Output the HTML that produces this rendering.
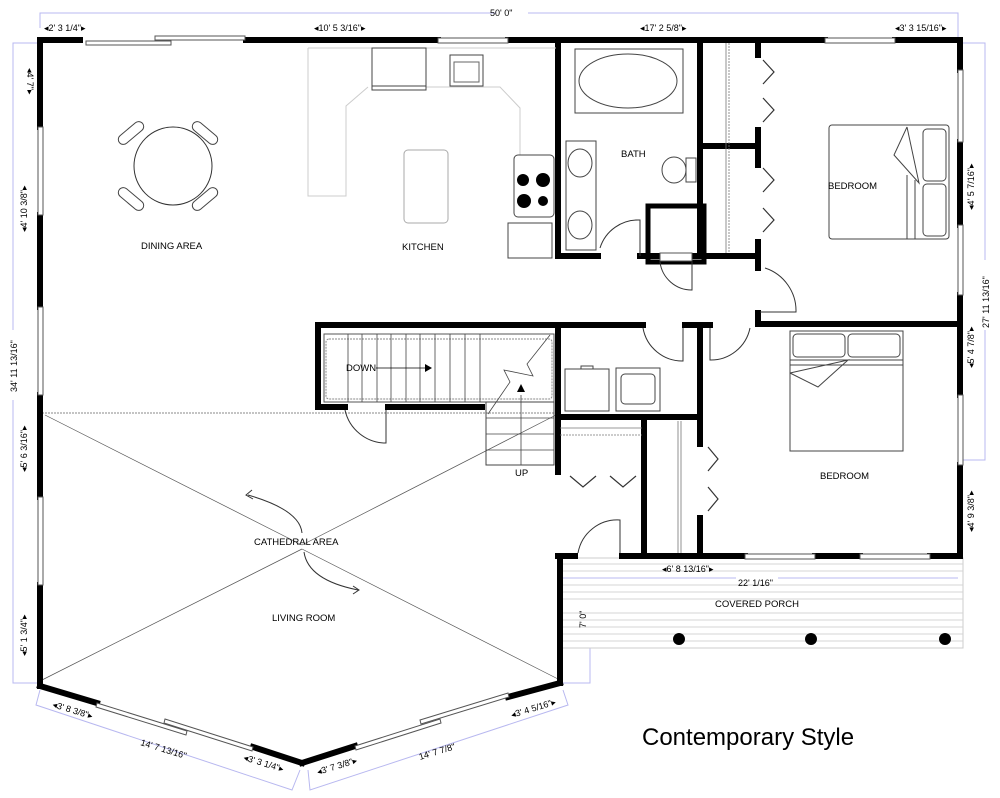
<!DOCTYPE html>
<html><head><meta charset="utf-8"><style>
html,body{margin:0;padding:0;background:#fff;}
svg{display:block;font-family:"Liberation Sans",sans-serif;}
.w{stroke:#000;stroke-width:6;fill:none;stroke-linecap:square}
.t{font-size:9.5px;fill:#000}
.d{font-size:9px;fill:#000}
.dim{stroke:#b8b8f0;stroke-width:1;fill:none}
.g{stroke:#bbb;stroke-width:1;fill:none}
.k{stroke:#333;stroke-width:1;fill:none}
.win{fill:#fff;stroke:#555;stroke-width:1}
</style></head><body>
<svg width="1000" height="798" viewBox="0 0 1000 798">
<!-- dimension lines -->
<polyline class="dim" points="40,28 40,13 958,13 958,40"/>
<polyline class="dim" points="40,43 13,43 13,683 40,683"/>
<polyline class="dim" points="960,43 985,43 985,460 960,460"/>
<polyline class="dim" points="40,690 36,705 292,790 300,770"/>
<polyline class="dim" points="308,770 310,790 568,705 563,690"/>
<polyline class="dim" points="563,683 590,683 590,560"/>
<line class="dim" x1="560" y1="578" x2="958" y2="578"/>
<rect x="496" y="8" width="32" height="10" fill="#fff"/>
<text class="d" x="490" y="16">50' 0"</text>
<text class="d" x="44" y="31">◂2' 3 1/4"▸</text>
<text class="d" x="314" y="31">◂10' 5 3/16"▸</text>
<text class="d" x="640" y="31">◂17' 2 5/8"▸</text>
<text class="d" x="895" y="31">◂3' 3 15/16"▸</text>
<rect x="8" y="330" width="10" height="70" fill="#fff"/>
<text class="d" transform="translate(17,392) rotate(-90)">34' 11 13/16"</text>
<text class="d" transform="translate(27,68) rotate(90)">◂4' 7"▸</text>
<text class="d" transform="translate(27,232) rotate(-90)">◂4' 10 3/8"▸</text>
<text class="d" transform="translate(27,472) rotate(-90)">◂5' 6 3/16"▸</text>
<text class="d" transform="translate(27,656) rotate(-90)">◂5' 1 3/4"▸</text>
<rect x="980" y="260" width="10" height="70" fill="#fff"/>
<text class="d" transform="translate(989,328) rotate(-90)">27' 11 13/16"</text>
<text class="d" transform="translate(974,210) rotate(-90)">◂4' 5 7/16"▸</text>
<text class="d" transform="translate(974,368) rotate(-90)">◂5' 4 7/8"▸</text>
<text class="d" transform="translate(974,532) rotate(-90)">◂4' 9 3/8"▸</text>

<!-- porch -->
<rect x="558" y="558" width="405" height="90" fill="#fff" stroke="#ccc"/>
<g stroke="#d4d4d4" stroke-width="1">
<line x1="560" y1="564" x2="963" y2="564"/><line x1="560" y1="571" x2="963" y2="571"/>
<line x1="560" y1="585" x2="963" y2="585"/><line x1="560" y1="592" x2="963" y2="592"/>
<line x1="560" y1="599" x2="963" y2="599"/><line x1="560" y1="613" x2="963" y2="613"/>
<line x1="560" y1="620" x2="963" y2="620"/><line x1="560" y1="627" x2="963" y2="627"/>
<line x1="560" y1="634" x2="963" y2="634"/><line x1="560" y1="641" x2="963" y2="641"/>
</g>
<line class="dim" x1="560" y1="578" x2="958" y2="578"/>
<circle cx="679" cy="639" r="6"/><circle cx="811" cy="639" r="6"/><circle cx="945" cy="639" r="6"/>
<text class="d" x="662" y="572">◂6' 8 13/16"▸</text>
<rect x="736" y="574" width="42" height="9" fill="#fff"/>
<text class="d" x="738" y="586">22' 1/16"</text>
<text class="t" x="715" y="607">COVERED PORCH</text>
<text class="d" transform="translate(586,628) rotate(-90)">7' 0"</text>

<!-- cathedral lines -->
<line x1="42" y1="413" x2="556" y2="413" stroke="#888" stroke-dasharray="2,1"/>
<g stroke="#555" stroke-width="0.7">
<line x1="45" y1="415" x2="302" y2="545"/><line x1="302" y1="545" x2="556" y2="415"/>
<line x1="42" y1="680" x2="302" y2="549"/><line x1="302" y1="549" x2="560" y2="680"/>
</g>
<path d="M302 533 Q300 510 248 495" class="k"/><path d="M252 490 L246 495 L253 499" class="k"/>
<path d="M304 552 Q308 580 358 590" class="k"/><path d="M353 586 L359 590 L353 594" class="k"/>

<!-- outer walls -->
<g class="w">
<line x1="40" y1="40" x2="80" y2="40"/><line x1="246" y1="40" x2="438" y2="40"/>
<line x1="508" y1="40" x2="825" y2="40"/><line x1="895" y1="40" x2="960" y2="40"/>
<line x1="40" y1="40" x2="40" y2="127"/><line x1="40" y1="215" x2="40" y2="307"/>
<line x1="40" y1="395" x2="40" y2="497"/><line x1="40" y1="585" x2="40" y2="686"/>
<line x1="960" y1="40" x2="960" y2="70"/><line x1="960" y1="142" x2="960" y2="225"/>
<line x1="960" y1="295" x2="960" y2="395"/><line x1="960" y1="465" x2="960" y2="556"/>
<line x1="558" y1="556" x2="575" y2="556"/><line x1="622" y1="556" x2="745" y2="556"/>
<line x1="815" y1="556" x2="860" y2="556"/><line x1="930" y1="556" x2="960" y2="556"/>
<line x1="560" y1="556" x2="560" y2="683"/>
<line x1="40" y1="686" x2="97" y2="703"/><line x1="253" y1="747" x2="302" y2="763"/>
<line x1="302" y1="763" x2="355" y2="746"/><line x1="508" y1="697" x2="560" y2="683"/>
</g>
<!-- windows -->
<g class="win">
<rect x="86" y="41" width="85" height="4"/><rect x="155" y="36" width="90" height="4"/>
<rect x="438" y="38" width="70" height="5"/><rect x="825" y="38" width="70" height="5"/>
<rect x="38" y="127" width="5" height="88"/><rect x="38" y="307" width="5" height="88"/>
<rect x="38" y="497" width="5" height="88"/>
<rect x="958" y="70" width="5" height="72"/><rect x="958" y="225" width="5" height="70"/>
<rect x="958" y="395" width="5" height="70"/>
<rect x="745" y="554" width="70" height="5"/><rect x="860" y="554" width="70" height="5"/>
<polygon points="97,703 187,731 186,735 96,707"/><polygon points="165,719 253,747 252,751 164,723"/>
<polygon points="355,746 440,719 441,723 356,750"/><polygon points="420,720 508,693 509,697 421,724"/>
</g>
<text class="d" transform="translate(52,707) rotate(17)">◂3' 8 3/8"▸</text>
<text class="d" transform="translate(140,745) rotate(17)">14' 7 13/16"</text>
<text class="d" transform="translate(243,760) rotate(17)">◂3' 3 1/4"▸</text>
<text class="d" transform="translate(318,775) rotate(-17)">◂3' 7 3/8"▸</text>
<text class="d" transform="translate(420,760) rotate(-17)">14' 7 7/8"</text>
<text class="d" transform="translate(512,718) rotate(-17)">◂3' 4 5/16"▸</text>

<!-- interior walls -->
<g class="w">
<line x1="558" y1="43" x2="558" y2="256"/><line x1="558" y1="256" x2="598" y2="256"/>
<line x1="640" y1="256" x2="758" y2="256"/>
<line x1="700" y1="43" x2="700" y2="256"/><line x1="700" y1="146" x2="758" y2="146"/>
<line x1="758" y1="45" x2="758" y2="55"/><line x1="758" y1="130" x2="758" y2="165"/>
<line x1="758" y1="242" x2="758" y2="268"/><line x1="758" y1="313" x2="758" y2="324"/>
<line x1="758" y1="324" x2="958" y2="324"/>
<line x1="318" y1="325" x2="643" y2="325"/><line x1="685" y1="325" x2="710" y2="325"/>
<line x1="318" y1="325" x2="318" y2="407"/><line x1="318" y1="407" x2="345" y2="407"/>
<line x1="388" y1="407" x2="482" y2="407"/>
<line x1="558" y1="325" x2="558" y2="472"/><line x1="558" y1="417" x2="700" y2="417"/>
<line x1="700" y1="325" x2="700" y2="444"/><line x1="700" y1="518" x2="700" y2="556"/>
<line x1="644" y1="421" x2="644" y2="556"/>
</g>
<rect x="648" y="206" width="56" height="56" fill="none" stroke="#000" stroke-width="5"/>
<rect x="660" y="253" width="32" height="8" fill="#fff" stroke="#555"/>
<g stroke="#777" stroke-width="0.8"><line x1="729" y1="43" x2="729" y2="253" stroke-dasharray="2,1"/><line x1="726" y1="43" x2="726" y2="253"/>
<line x1="678" y1="421" x2="678" y2="553"/><line x1="681" y1="421" x2="681" y2="553"/>
<line x1="560" y1="435" x2="642" y2="435" stroke-dasharray="2,1"/><line x1="560" y1="428" x2="642" y2="428"/></g>
<!-- doors -->
<g class="k" stroke-width="0.8">
<path d="M600 248 A40 40 0 0 1 640 220 L640 256"/>
<path d="M660 262 A32 32 0 0 0 692 290 L692 262"/>
<path d="M765 268 A45 45 0 0 1 796 312 L760 312"/>
<path d="M643 328 A40 40 0 0 0 683 361 L683 328"/>
<path d="M710 328 L710 360 A40 40 0 0 0 750 328"/>
<path d="M345 410 A42 42 0 0 0 386 443 L386 410"/>
<path d="M578 553 A40 40 0 0 1 620 520 L620 553"/>
</g>
<g stroke="#333" stroke-width="1.2" fill="none">
<polyline points="763,60 774,72 763,84"/><polyline points="763,98 774,110 763,122"/>
<polyline points="763,168 774,180 763,192"/><polyline points="763,208 774,220 763,232"/>
<polyline points="708,447 718,459 708,471"/><polyline points="708,487 718,499 708,511"/>
<polyline points="570,476 583,487 596,476"/><polyline points="610,476 623,487 636,476"/>
</g>
<!-- stairs -->
<rect x="324" y="334" width="230" height="68" fill="none" stroke="#555"/>
<rect x="326" y="339" width="226" height="60" rx="3" fill="none" stroke="#888" stroke-dasharray="2,1"/>
<g stroke="#444" stroke-width="0.8">
<line x1="348" y1="334" x2="348" y2="402"/><line x1="362" y1="334" x2="362" y2="402"/>
<line x1="377" y1="334" x2="377" y2="402"/><line x1="391" y1="334" x2="391" y2="402"/>
<line x1="406" y1="334" x2="406" y2="402"/><line x1="420" y1="334" x2="420" y2="402"/>
<line x1="435" y1="334" x2="435" y2="402"/><line x1="450" y1="334" x2="450" y2="402"/>
<line x1="465" y1="334" x2="465" y2="402"/><line x1="480" y1="334" x2="480" y2="402"/>
</g>
<rect x="486" y="402" width="68" height="63" fill="none" stroke="#444"/>
<g stroke="#444" stroke-width="0.8"><line x1="486" y1="418" x2="554" y2="418"/><line x1="486" y1="434" x2="554" y2="434"/><line x1="486" y1="450" x2="554" y2="450"/>
<line x1="521" y1="395" x2="521" y2="465"/>
<polyline points="488,414 510,382 504,370 533,376 527,364 550,335" fill="none"/></g>
<polygon points="517,392 521,384 525,392"/>
<line x1="376" y1="368" x2="425" y2="368" stroke="#000" stroke-width="0.8"/><polygon points="425,364 432,368 425,372"/>
<text class="t" x="346" y="371">DOWN</text>
<text class="t" x="515" y="476">UP</text>
<!-- laundry -->
<rect x="565" y="369" width="44" height="42" fill="none" stroke="#444"/><rect x="581" y="366" width="12" height="3" fill="none" stroke="#444"/>
<rect x="616" y="368" width="44" height="43" fill="none" stroke="#444"/><rect x="621" y="374" width="34" height="30" rx="4" fill="none" stroke="#444"/>
<!-- kitchen -->
<path d="M308 48 L556 48 M308 48 L308 196 L346 196 L346 106 L368 87 M426 87 L500 87 L520 108 L520 155" fill="none" stroke="#ccc"/>
<rect x="372" y="48" width="54" height="42" fill="none" stroke="#444"/><line x1="372" y1="86" x2="426" y2="86" stroke="#444"/>
<rect x="450" y="55" width="33" height="31" fill="none" stroke="#444"/><rect x="454" y="62" width="25" height="20" fill="none" stroke="#666"/>
<rect x="404" y="150" width="44" height="73" rx="4" fill="none" stroke="#aaa"/>
<rect x="514" y="155" width="40" height="62" rx="4" fill="none" stroke="#444"/>
<circle cx="523" cy="180" r="6"/><circle cx="543" cy="180" r="7"/><circle cx="524" cy="201" r="7"/><circle cx="543" cy="201" r="5"/>
<rect x="508" y="223" width="44" height="35" fill="none" stroke="#444"/>
<text class="t" x="402" y="250">KITCHEN</text>
<!-- dining -->
<circle cx="173" cy="166" r="39" fill="none" stroke="#333"/>
<g fill="none" stroke="#444"><rect x="116" y="128" width="30" height="10" rx="5" transform="rotate(-40 131 133)"/>
<rect x="190" y="128" width="30" height="10" rx="5" transform="rotate(40 205 133)"/>
<rect x="116" y="194" width="30" height="10" rx="5" transform="rotate(40 131 199)"/>
<rect x="190" y="194" width="30" height="10" rx="5" transform="rotate(-40 205 199)"/></g>
<text class="t" x="141" y="249">DINING AREA</text>
<!-- bath -->
<rect x="575" y="49" width="108" height="64" fill="none" stroke="#444"/><ellipse cx="628" cy="81" rx="49" ry="27" fill="none" stroke="#444"/>
<rect x="566" y="141" width="30" height="109" fill="none" stroke="#444"/>
<ellipse cx="580" cy="163" rx="12" ry="14" fill="none" stroke="#444"/><ellipse cx="580" cy="225" rx="12" ry="14" fill="none" stroke="#444"/>
<ellipse cx="674" cy="170" rx="12" ry="13" fill="none" stroke="#444"/><rect x="686" y="158" width="10" height="24" fill="none" stroke="#444"/>
<text class="t" x="621" y="157">BATH</text>
<!-- bedrooms -->
<rect x="829" y="125" width="120" height="114" rx="3" fill="none" stroke="#444"/>
<rect x="923" y="129" width="23" height="52" rx="4" fill="none" stroke="#444"/><rect x="923" y="184" width="23" height="52" rx="4" fill="none" stroke="#444"/>
<polyline points="907,127 894,155 919,183 907,127" fill="none" stroke="#444"/><line x1="907" y1="175" x2="907" y2="239" stroke="#444"/><line x1="915" y1="180" x2="915" y2="239" stroke="#444"/>
<text class="t" x="828" y="189">BEDROOM</text>
<rect x="790" y="331" width="113" height="120" fill="none" stroke="#444"/>
<rect x="793" y="334" width="52" height="23" rx="4" fill="none" stroke="#444"/><rect x="848" y="334" width="52" height="23" rx="4" fill="none" stroke="#444"/>
<line x1="790" y1="360" x2="903" y2="360" stroke="#444"/><line x1="790" y1="365" x2="903" y2="365" stroke="#444"/>
<polyline points="790,373 848,360 818,387 790,373" fill="none" stroke="#444"/>
<text class="t" x="820" y="479">BEDROOM</text>
<text class="t" x="254" y="545">CATHEDRAL AREA</text>
<text class="t" x="272" y="621">LIVING ROOM</text>
<text x="642" y="745" style="font-size:24px">Contemporary Style</text>
</svg>
</body></html>
